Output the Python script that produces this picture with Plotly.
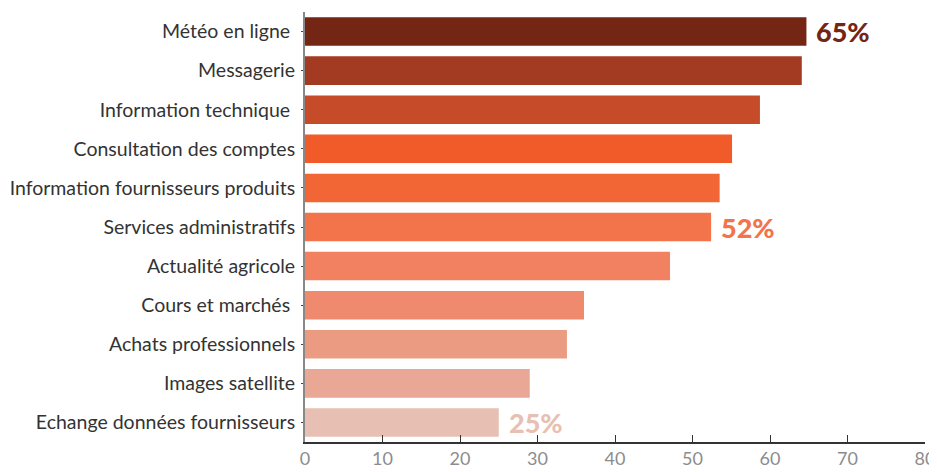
import plotly.graph_objects as go

categories = [
    "Météo en ligne\u00a0",
    "Messagerie",
    "Information technique\u00a0",
    "Consultation des comptes",
    "Information fournisseurs produits",
    "Services administratifs",
    "Actualité agricole",
    "Cours et marchés\u00a0",
    "Achats professionnels",
    "Images satellite",
    "Echange données fournisseurs",
]
values = [64.7, 64.1, 58.7, 55.1, 53.5, 52.4, 47.1, 36.0, 33.8, 29.0, 25.0]
colors = ["#742514", "#A33B22", "#C64B29", "#F15A29", "#F26535", "#F3734A",
          "#F18161", "#EF8A6E", "#EC9B83", "#E9A796", "#E8BFB3"]
value_labels = {0: "65%", 5: "52%", 10: "25%"}
x_ticks = [0, 10, 20, 30, 40, 50, 60, 70, 80]

FONT = "Lato, 'Noto Sans', sans-serif"

fig = go.Figure(go.Bar(
    x=values, y=categories, orientation="h",
    marker=dict(color=colors, line=dict(width=0)),
    hoverinfo="x+y",
))

for i, txt in value_labels.items():
    fig.add_annotation(
        x=values[i], y=categories[i], text=txt,
        xanchor="left", yanchor="middle", xshift=8, showarrow=False,
        font=dict(family=FONT, size=27, color=colors[i], weight=900),
    )

# the page body has an 8px default margin, so the figure is sized to fit
fig.update_layout(
    width=929, height=464,
    margin=dict(l=297, r=12, t=4, b=30, autoexpand=False),
    paper_bgcolor="white", plot_bgcolor="white",
    bargap=0.27,
    showlegend=False,
    font=dict(family=FONT),
)
fig.update_xaxes(
    range=[0, 80], tickvals=x_ticks, showgrid=False, zeroline=False,
    automargin=False,
    showline=True, linecolor="#333333", linewidth=1.5,
    ticks="inside", ticklen=7, tickcolor="#333333", tickwidth=1.2,
    tickfont=dict(family=FONT, size=18, color="#8c8c8c"),
)
fig.update_yaxes(
    autorange="reversed", showgrid=False, zeroline=False,
    automargin=False,
    showline=True, linecolor="#888888", linewidth=2,
    ticks="outside", ticklen=2, tickcolor="#444444",
    ticklabelstandoff=2,
    tickfont=dict(family=FONT, size=19.5, color="#333333"),
)

fig.write_html("out.html")
